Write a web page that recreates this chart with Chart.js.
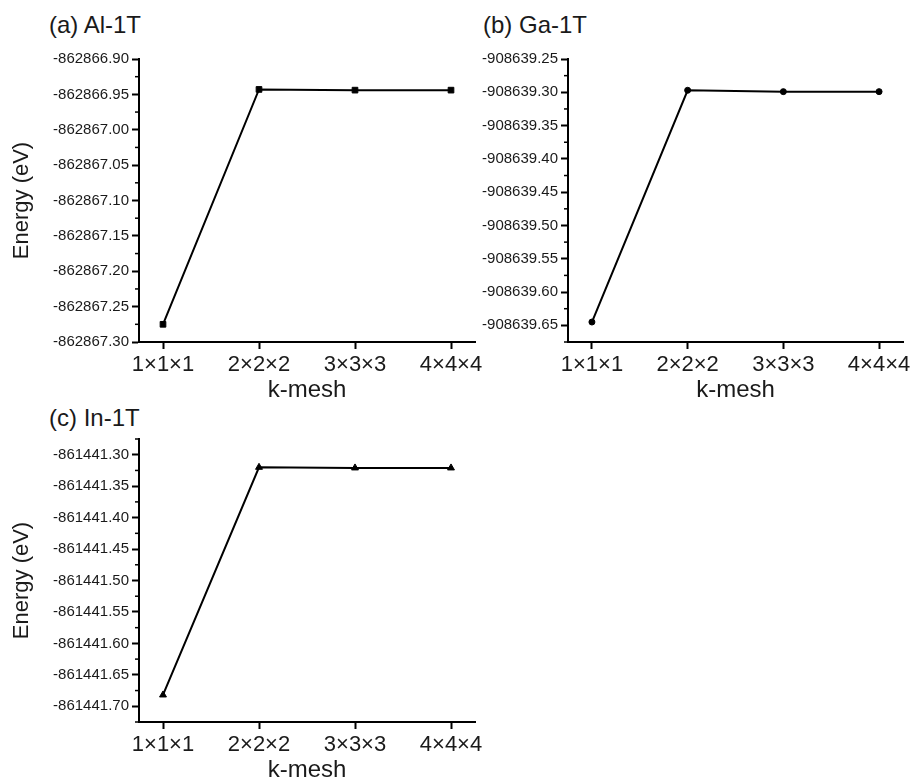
<!DOCTYPE html>
<html>
<head>
<meta charset="utf-8">
<title>k-mesh convergence</title>
<script src="https://cdn.jsdelivr.net/npm/chart.js@4.4.1/dist/chart.umd.min.js"></script>
<style>
  html, body { margin: 0; padding: 0; background: #fff; }
  .wrap { position: relative; width: 914px; height: 780px; overflow: hidden; }
  .wrap canvas { position: absolute; }
  .panel-label {
    position: absolute;
    font: 24px "Liberation Sans", Arial, sans-serif;
    line-height: 1;
    color: #1a1a1a;
    white-space: nowrap;
  }
</style>
</head>
<body>
<div class="wrap">
  <div class="panel-label" style="left:49px; top:13px;">(a) Al-1T</div>
  <div class="panel-label" style="left:483px; top:13px;">(b) Ga-1T</div>
  <div class="panel-label" style="left:49px; top:406px;">(c) In-1T</div>
  <canvas id="chartA" width="500" height="405" style="left:0; top:0;"></canvas>
  <canvas id="chartB" width="460" height="405" style="left:470px; top:0;"></canvas>
  <canvas id="chartC" width="500" height="385" style="left:0; top:400px;"></canvas>
</div>
<script>
// data
const kIndex = [1, 2, 3, 4];
const kLabels = ["1×1×1", "2×2×2", "3×3×3", "4×4×4"];

const alEnergy = [-862867.275, -862866.943, -862866.944, -862866.944];
const gaEnergy = [-908639.645, -908639.297, -908639.299, -908639.299];
const inEnergy = [-861441.682, -861441.320, -861441.321, -861441.321];

const alRange = [-862867.30, -862866.90];
const gaRange = [-908639.675, -908639.25];
const inRange = [-861441.725, -861441.275];

const yStep = 0.05;
const fontFamily = '"Liberation Sans", Arial, sans-serif';
const ink = "#1a1a1a";

// y ticks on every 0.05
function stepTicks(scale) {
  const lo = Math.ceil(scale.min / yStep - 1e-6);
  const hi = Math.floor(scale.max / yStep + 1e-6);
  const ticks = [];
  for (let i = lo; i <= hi; i++) {
    ticks.push({ value: i * yStep });
  }
  scale.ticks = ticks;
}

// short minor ticks half way between the labelled ones
const minorTicks = {
  id: "minorTicks",
  afterDraw(chart) {
    const y = chart.scales.y;
    const ctx = chart.ctx;
    const half = yStep / 2;
    const lo = Math.ceil(y.min / half - 1e-6);
    const hi = Math.floor(y.max / half + 1e-6);
    ctx.save();
    ctx.strokeStyle = "#000";
    ctx.lineWidth = 1.5;
    for (let i = lo; i <= hi; i++) {
      if (i % 2 === 0) continue;
      const py = y.getPixelForValue(i * half);
      ctx.beginPath();
      ctx.moveTo(y.right - 4, py);
      ctx.lineTo(y.right, py);
      ctx.stroke();
    }
    ctx.restore();
  },
};

function drawPanel(id, energy, range, marker, box) {
  const ctx = document.getElementById(id);
  return new Chart(ctx, {
    type: "line",
    data: {
      datasets: [
        {
          data: kIndex.map((k, i) => ({ x: k, y: energy[i] })),
          borderColor: "#000",
          borderWidth: 2,
          tension: 0,
          pointStyle: marker.style,
          pointRadius: marker.radius,
          pointBorderWidth: 1,
          pointBackgroundColor: "#000",
          pointBorderColor: "#000",
          clip: false,
        },
      ],
    },
    options: {
      responsive: false,
      animation: false,
      layout: { padding: box.padding },
      plugins: {
        legend: { display: false },
        tooltip: { enabled: false },
      },
      scales: {
        x: {
          type: "linear",
          min: 0.75,
          max: 4.25,
          afterBuildTicks: (s) => {
            s.ticks = kIndex.map((v) => ({ value: v }));
          },
          afterFit: (s) => {
            s.height = box.xHeight;
          },
          grid: { drawOnChartArea: false, tickLength: 7, tickWidth: 2, tickColor: "#000" },
          border: { color: "#000", width: 2 },
          ticks: {
            padding: 3,
            color: ink,
            autoSkip: false,
            maxRotation: 0,
            font: { family: fontFamily, size: 22 },
            callback: (v) => kLabels[kIndex.indexOf(v)],
          },
          title: {
            display: true,
            text: "k-mesh",
            color: ink,
            font: { family: fontFamily, size: 24 },
            padding: { top: 0, bottom: 0 },
          },
        },
        y: {
          min: range[0],
          max: range[1],
          afterBuildTicks: stepTicks,
          afterFit: (s) => {
            s.width = box.yWidth;
          },
          grid: { drawOnChartArea: false, tickLength: 7, tickWidth: 2, tickColor: "#000" },
          border: { color: "#000", width: 2 },
          ticks: {
            padding: 3,
            color: ink,
            font: { family: fontFamily, size: 15 },
            callback: (v) => v.toFixed(2),
          },
          title: {
            display: box.yTitle,
            text: "Energy (eV)",
            color: ink,
            font: { family: fontFamily, size: 22 },
            padding: { top: 9, bottom: 0 },
          },
        },
      },
    },
    plugins: [minorTicks],
  });
}

drawPanel("chartA", alEnergy, alRange, { style: "rect", radius: 4 }, {
  padding: { left: 0, top: 59, right: 25, bottom: 0 },
  yWidth: 139,
  xHeight: 63,
  yTitle: true,
});

drawPanel("chartB", gaEnergy, gaRange, { style: "circle", radius: 3 }, {
  padding: { left: 0, top: 59, right: 27, bottom: 0 },
  yWidth: 98,
  xHeight: 63,
  yTitle: false,
});

drawPanel("chartC", inEnergy, inRange, { style: "triangle", radius: 4 }, {
  padding: { left: 0, top: 39, right: 25, bottom: 0 },
  yWidth: 139,
  xHeight: 63,
  yTitle: true,
});
</script>
</body>
</html>
